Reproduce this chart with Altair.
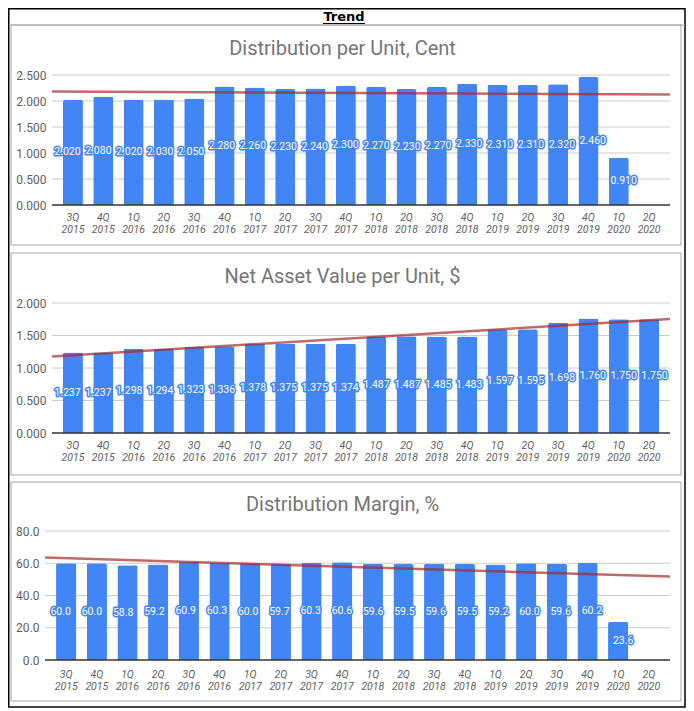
import altair as alt

cats = ["3Q 2015", "4Q 2015", "1Q 2016", "2Q 2016", "3Q 2016", "4Q 2016",
        "1Q 2017", "2Q 2017", "3Q 2017", "4Q 2017", "1Q 2018", "2Q 2018",
        "3Q 2018", "4Q 2018", "1Q 2019", "2Q 2019", "3Q 2019", "4Q 2019",
        "1Q 2020", "2Q 2020"]

dpu = [2.020, 2.080, 2.020, 2.030, 2.050, 2.280, 2.260, 2.230, 2.240, 2.300,
       2.270, 2.230, 2.270, 2.330, 2.310, 2.310, 2.320, 2.460, 0.910, None]
nav = [1.237, 1.237, 1.298, 1.294, 1.323, 1.336, 1.378, 1.375, 1.375, 1.374,
       1.487, 1.487, 1.485, 1.483, 1.597, 1.595, 1.698, 1.760, 1.750, 1.750]
margin = [60.0, 60.0, 58.8, 59.2, 60.9, 60.3, 60.0, 59.7, 60.3, 60.6,
          59.6, 59.5, 59.6, 59.5, 59.2, 60.0, 59.6, 60.2, 23.6, None]

ticks1 = [0, 0.5, 1.0, 1.5, 2.0, 2.5]
ticks2 = [0, 0.5, 1.0, 1.5, 2.0]
ticks3 = [0, 20, 40, 60, 80]

main_title = "Trend"
t1 = "Distribution per Unit, Cent"
t2 = "Net Asset Value per Unit, $"
t3 = "Distribution Margin, %"

PI, PO = 0.34, 0.36
W = 625
BLUE = "#4285F4"
one = alt.Data(values=[{"a": 1}])


def panel(values, title, ticks, fmt, x0, height, title_y, box_y1, box_y2,
          label_pad, extra=None):
    n = len(cats)
    rows = [{"cat": c, "idx": i, "value": v}
            for i, (c, v) in enumerate(zip(cats, values))]
    data = alt.Data(values=rows)
    lo = -(PO + (1 - PI) / 2)
    hi = n - 1 + (PO + (1 - PI) / 2)
    yscale = alt.Scale(domain=[ticks[0], ticks[-1]], nice=False, zero=True)
    yaxis = alt.Axis(values=ticks, format=fmt, grid=False, domain=False,
                     ticks=False, labelPadding=6 - x0, labelFont="Roboto",
                     labelFontSize=12, labelColor="#616161", title=None)
    xscale = alt.Scale(domain=cats, range=[x0, W], paddingInner=PI,
                       paddingOuter=PO)
    xaxis = alt.Axis(labelExpr="split(datum.label, ' ')", labelAngle=0,
                     labelFont="Roboto", labelFontSize=10.5,
                     labelFontStyle="italic", labelColor="#616161",
                     labelLineHeight=12.5, labelPadding=label_pad,
                     domain=False, ticks=False, grid=False, title=None)

    box = alt.Chart(one).mark_rect(fillOpacity=0, stroke="#a6a6a6",
                                   strokeWidth=1).encode(
        x=alt.value(-34), x2=alt.value(636),
        y=alt.value(box_y1), y2=alt.value(box_y2))
    ttl = alt.Chart(one).mark_text(text=title, font="Roboto", fontSize=20,
                                   color="#757575", align="center",
                                   baseline="alphabetic").encode(
        x=alt.value(297.5), y=alt.value(title_y))
    grid = alt.Chart(alt.Data(values=[{"t": t} for t in ticks[1:]])).mark_rule(
        color="#cccccc", strokeWidth=1).encode(
        y=alt.Y("t:Q", scale=yscale, axis=yaxis),
        x=alt.value(x0), x2=alt.value(W))
    bars = alt.Chart(data).transform_filter("datum.value != null").mark_bar(
        color=BLUE, cornerRadiusTopLeft=2, cornerRadiusTopRight=2).encode(
        x=alt.X("cat:N", sort=cats, scale=xscale, axis=xaxis),
        y=alt.Y("value:Q", scale=yscale, axis=yaxis))
    base = alt.Chart(alt.Data(values=[{"t": ticks[0]}])).mark_rule(
        color="#333333", strokeWidth=1.3).encode(
        y=alt.Y("t:Q", scale=yscale, axis=yaxis),
        x=alt.value(x0), x2=alt.value(W))
    trend = alt.Chart(data).transform_filter("datum.value != null").transform_regression(
        "idx", "value", extent=[lo, hi]).mark_line(
        color="#a52a2a", opacity=0.7, strokeWidth=2.5).encode(
        x=alt.X("idx:Q", scale=alt.Scale(domain=[lo, hi], range=[x0, W],
                                         nice=False, zero=False), axis=None),
        y=alt.Y("value:Q", scale=yscale, axis=yaxis))
    lbl_base = alt.Chart(data).transform_filter(
        "datum.value != null").transform_calculate(half="datum.value / 2")
    lbl_enc = dict(
        x=alt.X("cat:N", sort=cats, scale=xscale, axis=None),
        y=alt.Y("half:Q", scale=yscale, axis=yaxis),
        text=alt.Text("value:Q", format=fmt))
    halo = lbl_base.mark_text(font="Roboto", fontSize=10.5, color=BLUE,
                              stroke=BLUE, strokeWidth=3,
                              strokeJoin="round").encode(**lbl_enc)
    lbl = lbl_base.mark_text(font="Roboto", fontSize=10.5,
                             color="white").encode(**lbl_enc)
    layers = []
    if extra:
        layers.extend(extra)
    layers.extend([box, ttl, grid, bars, base, trend, halo, lbl])
    return alt.layer(*layers).properties(width=W, height=height).resolve_scale(
        x="independent")


# header decorations (drawn with panel 1, local coords: origin at plot top-left)
outer = alt.Chart(one).mark_rect(fillOpacity=0, stroke="black",
                                 strokeWidth=1.5).encode(
    x=alt.value(-36.25), x2=alt.value(640),
    y=alt.value(-66.25), y2=alt.value(632))
head_line = alt.Chart(one).mark_rule(color="#a6a6a6", strokeWidth=1).encode(
    x=alt.value(-36), x2=alt.value(640), y=alt.value(-50))
head_txt = alt.Chart(one).mark_text(text=main_title, font="DejaVu Sans",
                                    fontSize=13, fontWeight="bold",
                                    color="black", align="center",
                                    baseline="alphabetic").encode(
    x=alt.value(299), y=alt.value(-54))
underline = alt.Chart(one).mark_rule(color="black", strokeWidth=1.2).encode(
    x=alt.value(278), x2=alt.value(320), y=alt.value(-51.5))

p1 = panel(dpu, t1, ticks1, ".3f", 7, 130, -20, -50, 170, 7,
           extra=[outer, head_line, head_txt, underline])
p2 = panel(nav, t2, ticks2, ".3f", 7, 130, -19.7, -50, 172, 7)
p3 = panel(margin, t3, ticks3, ".1f", 0, 129, -20.3, -49, 170, 9)

chart = alt.vconcat(p1, p2, p3, spacing=98, bounds="flush").properties(
    padding=0, background="white").configure_view(strokeWidth=0)

chart.save("out.html", embed_options={"renderer": "svg", "actions": False})
